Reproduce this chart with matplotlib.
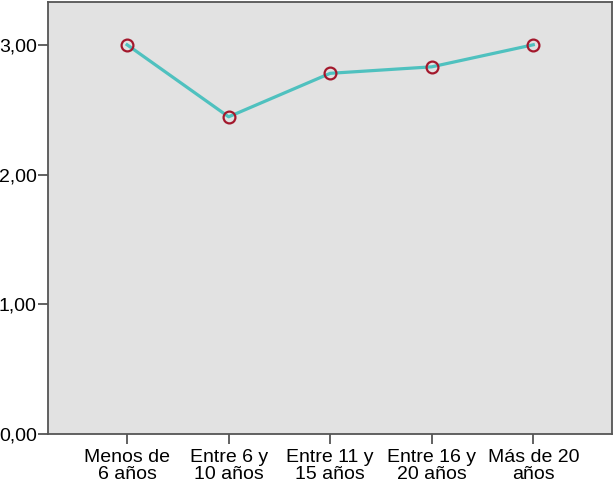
import matplotlib
matplotlib.use("Agg")
import matplotlib.pyplot as plt

# ----------------- Data -----------------
categories = ["Menos de\n6 años", "Entre 6 y\n10 años", "Entre 11 y\n15 años",
              "Entre 16 y\n20 años", "Más de 20\naños"]
means = [3.00, 2.445, 2.78, 2.83, 3.00]
y_ticks = [0.0, 1.0, 2.0, 3.0]

# ----------------- Plotting -----------------
plt.rcParams['font.family'] = ['Liberation Sans', 'DejaVu Sans']

fig = plt.figure(figsize=(6.14, 4.84), dpi=100)
ax = fig.add_axes([0.078, 0.103, 0.9195, 0.893])
ax.set_facecolor("#e2e2e2")

xs = list(range(len(categories)))
ax.plot(xs, means, color="#4fc1bf", linewidth=2.3, zorder=2)
ax.plot(xs, means, linestyle="none", marker="o", markersize=8.5,
        markerfacecolor="none", markeredgecolor="#a3182c", markeredgewidth=1.6, zorder=3)

ax.set_xlim(-0.78, len(categories) - 1 + 0.78)
ax.set_ylim(0, 3.33)
ax.set_xticks(xs)
ax.set_xticklabels(categories, fontsize=14, linespacing=1.0)
ax.set_yticks(y_ticks)
ax.set_yticklabels([f"{v:.2f}".replace(".", ",") for v in y_ticks], fontsize=14)

for side in ["left", "bottom", "right", "top"]:
    ax.spines[side].set_color("#555555")
    ax.spines[side].set_linewidth(1.3)
ax.tick_params(axis="both", direction="out", length=7, width=1.3, color="#555555",
               labelcolor="black")
ax.tick_params(axis="x", pad=4)
ax.tick_params(axis="y", pad=1)

fig.savefig("out.png", dpi=100)
